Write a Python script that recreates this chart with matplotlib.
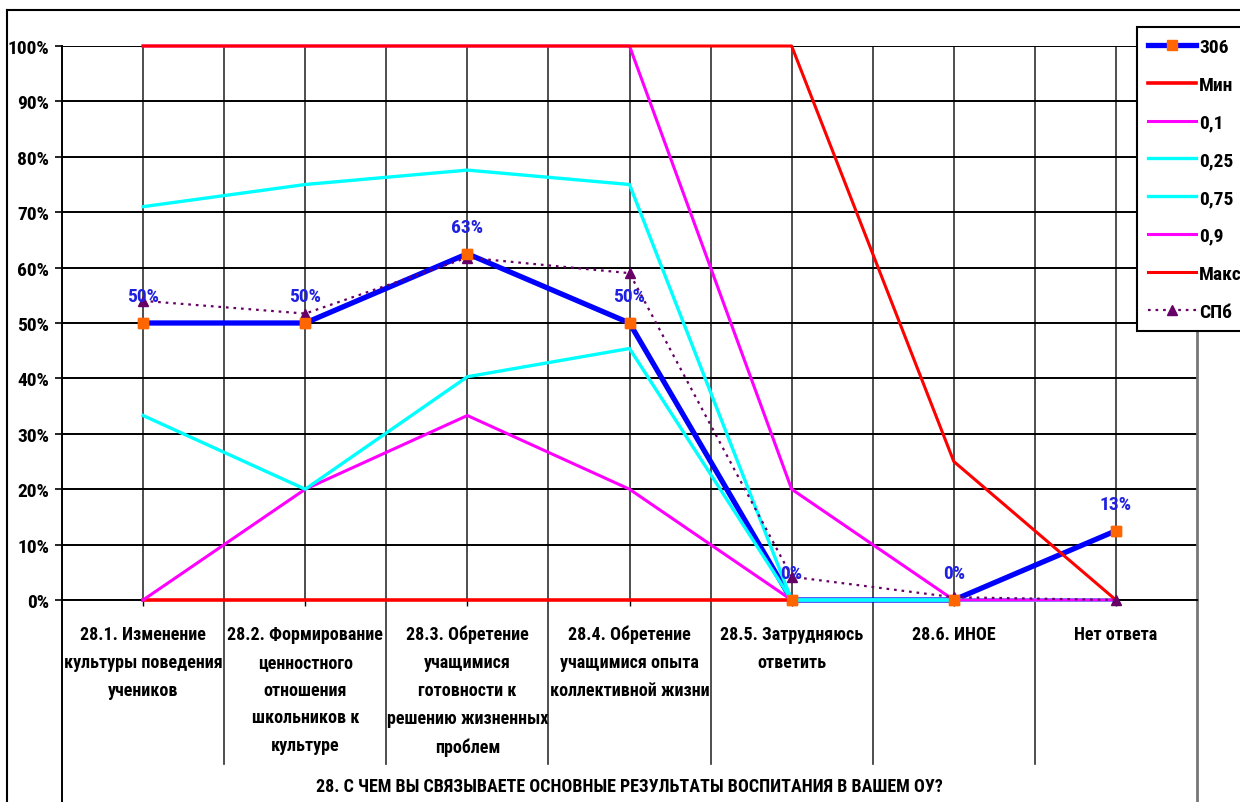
import matplotlib
matplotlib.use('Agg')
import matplotlib.pyplot as plt
import matplotlib.transforms as mtransforms
from matplotlib.lines import Line2D

plt.rcParams['font.family'] = ['Roboto Condensed', 'Noto Sans', 'DejaVu Sans']
plt.rcParams['font.stretch'] = 'condensed'
plt.rcParams['font.weight'] = 'bold'

# ---- data ----
categories = [
    "28.1. Изменение\nкультуры поведения\nучеников",
    "28.2. Формирование\nценностного\nотношения\nшкольников к\nкультуре",
    "28.3. Обретение\nучащимися\nготовности к\nрешению жизненных\nпроблем",
    "28.4. Обретение\nучащимися опыта\nколлективной жизни",
    "28.5. Затрудняюсь\nответить",
    "28.6. ИНОЕ",
    "Нет ответа",
]
title = "28. С ЧЕМ ВЫ СВЯЗЫВАЕТЕ ОСНОВНЫЕ РЕЗУЛЬТАТЫ ВОСПИТАНИЯ В ВАШЕМ ОУ?"

s306 = [50, 50, 62.5, 50, 0, 0, 12.5]
s306_labels = ["50%", "50%", "63%", "50%", "0%", "0%", "13%"]
s_min = [0, 0, 0, 0, 0, 0, 0]
s_01 = [0, 20, 33.3, 20, 0, 0, 0]
s_025 = [33.3, 20, 40.3, 45.4, 0, 0, 0]
s_075 = [71, 75, 77.6, 75, 0, 0, 0]
s_09 = [100, 100, 100, 100, 20, 0, 0]
s_max = [100, 100, 100, 100, 100, 25, 0]
s_spb = [54, 51.7, 61.8, 59, 4.2, 0.5, 0]

W, H = 1240, 803
fig = plt.figure(figsize=(W / 100, H / 100), dpi=100)
ax = fig.add_axes([62 / W, (H - 601) / H, (1197 - 62) / W, (601 - 47) / H])

x = list(range(len(categories)))

ax.plot(x, s306, color='#0000FF', lw=3.8, marker='s', ms=7, mfc='#FF6600',
        mec='#FF6600', label='306', zorder=3, clip_on=False)
ax.plot(x, s_min, color='#FF0000', lw=2.6, label='Мин', zorder=4, clip_on=False)
ax.plot(x, s_01, color='#FF00FF', lw=2.2, label='0,1', zorder=5, clip_on=False)
ax.plot(x, s_025, color='#00FFFF', lw=2.4, label='0,25', zorder=6, clip_on=False)
ax.plot(x, s_075, color='#00FFFF', lw=2.4, label='0,75', zorder=7, clip_on=False)
ax.plot(x, s_09, color='#FF00FF', lw=2.2, label='0,9', zorder=8, clip_on=False)
ax.plot(x, s_max, color='#FF0000', lw=2.2, label='Макс', zorder=9, clip_on=False)
ax.plot(x, s_spb, color='#660066', lw=1.6, ls=(0, (1.2, 2.2)), marker='^', ms=7,
        mfc='#660066', mec='#660066', label='СПб', zorder=10, clip_on=False)
# markers of 306 on top of the other lines
ax.plot(x, s306, ls='none', marker='s', ms=7, mfc='#FF6600', mec='#FF6600',
        zorder=11, clip_on=False)

for i, v in enumerate(s306):
    ax.annotate(s306_labels[i], (i, v), xytext=(0, 15.5), textcoords='offset points',
                ha='center', va='baseline', color='#2020E0', fontsize=14,
                fontweight='bold', zorder=12)

ax.set_xlim(-0.5, 6.5)
ax.set_ylim(0, 100)
ax.set_yticks(range(0, 101, 10))
ax.set_yticklabels([f"{v}%" for v in range(0, 101, 10)], fontsize=14, fontweight='bold')
ax.set_xticks(x)
ax.set_xticklabels([])
ax.set_xticks([k - 0.5 for k in range(1, 7)], minor=True)
ax.tick_params(axis='y', length=5, width=1.2, pad=4)
ax.tick_params(axis='x', which='major', length=4, width=1, direction='out')
ax.tick_params(axis='x', which='minor', length=0)

ax.grid(axis='y', color='black', lw=1.4, zorder=0)
ax.grid(axis='x', which='both', color='#303030', lw=1.2, zorder=0)
ax.set_axisbelow(True)

ax.spines['top'].set_visible(False)
ax.spines['left'].set_color('black')
ax.spines['left'].set_linewidth(1.4)
ax.spines['right'].set_color('#777777')
ax.spines['right'].set_linewidth(2)
ax.spines['bottom'].set_color('black')
ax.spines['bottom'].set_linewidth(1.4)

# category "table" below the plot
trans = mtransforms.blended_transform_factory(ax.transData, ax.transAxes)
table_bottom = -(765 - 601) / 554
fig_bottom = -(H - 601) / 554
for k in range(1, 7):
    ax.plot([k - 0.5, k - 0.5], [0, table_bottom], transform=trans, clip_on=False,
            color='#303030', lw=1.2)
ax.plot([-0.5, -0.5], [0, fig_bottom], transform=trans, clip_on=False, color='black', lw=1.4)
ax.plot([6.5, 6.5], [0, fig_bottom], transform=trans, clip_on=False, color='#777777', lw=2)

for i, lab in enumerate(categories):
    ax.text(i, -(626 - 601) / 554, lab, transform=trans, ha='center', va='top',
            fontsize=13, fontweight='bold', linespacing=1.7)
ax.text(3, -(787 - 601) / 554, title, transform=trans, ha='center', va='center',
        fontsize=13, fontweight='bold')

leg = ax.legend(loc='upper left', bbox_to_anchor=(1137 / W, 1 - 28 / H),
                bbox_transform=fig.transFigure, borderaxespad=0, fancybox=False,
                framealpha=1, edgecolor='black', fontsize=14, handlelength=2.5,
                handletextpad=0.15, labelspacing=1.02, borderpad=0.55)
leg.get_frame().set_linewidth(1.5)
for t in leg.get_texts():
    t.set_fontweight('bold')

# outer chart border
fig.add_artist(Line2D([7 / W, 1], [1 - 11 / H, 1 - 11 / H], transform=fig.transFigure,
                      color='black', lw=1.5))
fig.add_artist(Line2D([7 / W, 7 / W], [0, 1 - 11 / H], transform=fig.transFigure,
                      color='black', lw=1.5))

fig.savefig('out.png', dpi=100)
